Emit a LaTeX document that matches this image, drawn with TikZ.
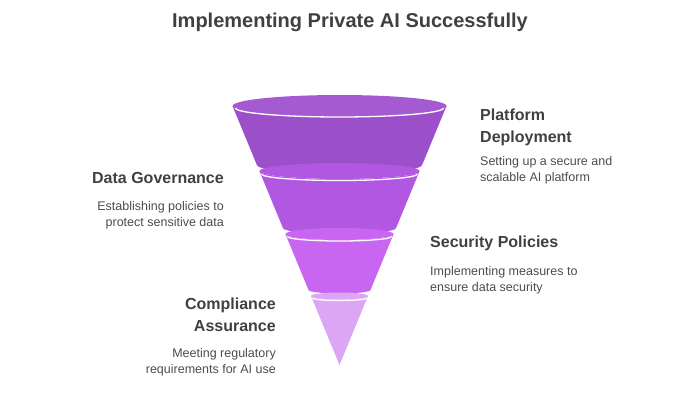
\documentclass[tikz,border=0pt]{standalone}
\usepackage{fontspec}
\setmainfont{Liberation Sans}
\begin{document}
\begin{tikzpicture}[x=1pt,y=1pt,
  head/.style={font=\fontsize{16}{19}\selectfont\bfseries,text=black!75,inner sep=0pt},
  desc/.style={font=\fontsize{12.5}{16}\selectfont,text=black!70,inner sep=0pt},
  rim/.style={draw=white,line width=1.3pt}]
\useasboundingbox (0,0) rectangle (700,400);
\definecolor{cA}{HTML}{9B4FC8}\definecolor{cB}{HTML}{B257E2}
\definecolor{cC}{HTML}{C866F2}\definecolor{cD}{HTML}{DDA6F5}
\definecolor{cAt}{HTML}{A55AD2}
\def\cx{339.5}
% band 1
\fill[cA] (\cx-107,294) arc[start angle=180,end angle=360,x radius=107,y radius=11] -- (\cx+82.6,235) arc[start angle=0,end angle=-180,x radius=82.6,y radius=8.5] -- cycle;
\fill[cAt] (\cx,294) ellipse[x radius=107,y radius=11];
\draw[rim] (\cx-104,292) arc[start angle=180,end angle=360,x radius=104,y radius=9];
% band 2
\fill[cB] (\cx-80.1,229) arc[start angle=180,end angle=360,x radius=80.1,y radius=8] -- (\cx+56.6,172) arc[start angle=0,end angle=-180,x radius=56.6,y radius=6] -- cycle;
\fill[cB] (\cx,229) ellipse[x radius=80.1,y radius=8];
\draw[rim] (\cx-78,226) arc[start angle=180,end angle=360,x radius=78,y radius=6.5];
% band 3
\fill[cC] (\cx-54.1,166) arc[start angle=180,end angle=360,x radius=54.1,y radius=6] -- (\cx+31,110) arc[start angle=0,end angle=-180,x radius=31,y radius=3.5] -- cycle;
\fill[cC] (\cx,166) ellipse[x radius=54.1,y radius=6];
\draw[rim] (\cx-52,163.5) arc[start angle=180,end angle=360,x radius=52,y radius=4.5];
% band 4
\fill[cD] (\cx-28.5,104) arc[start angle=180,end angle=360,x radius=28.5,y radius=3.5] -- (\cx,35) -- cycle;
\fill[cD] (\cx,104) ellipse[x radius=28.5,y radius=3.5];
\draw[rim] (\cx-27,102) arc[start angle=180,end angle=360,x radius=27,y radius=2.5];
% texts
\node[font=\fontsize{20}{24}\selectfont\bfseries,text=black!75] (title) at (350,378) {Implementing Private AI Successfully};
\node[head,anchor=north west,align=left] (h1) at (480,291) {Platform\\[3pt]Deployment};
\node[desc,anchor=north west,align=left] (d1) at (480,244) {Setting up a secure and\\scalable AI platform};
\node[head,anchor=north east,align=right] (h2) at (224,228) {Data Governance};
\node[desc,anchor=north east,align=right] (d2) at (224,199) {Establishing policies to\\protect sensitive data};
\node[head,anchor=north east,align=right,anchor=north west] (h3) at (430,164) {Security Policies};
\node[desc,anchor=north west,align=left] (d3) at (430,134) {Implementing measures to\\ensure data security};
\node[head,anchor=north east,align=right] (h4) at (276,102) {Compliance\\[3pt]Assurance};
\node[desc,anchor=north east,align=right] (d4) at (276,52) {Meeting regulatory\\requirements for AI use};
\end{tikzpicture}
\end{document}
